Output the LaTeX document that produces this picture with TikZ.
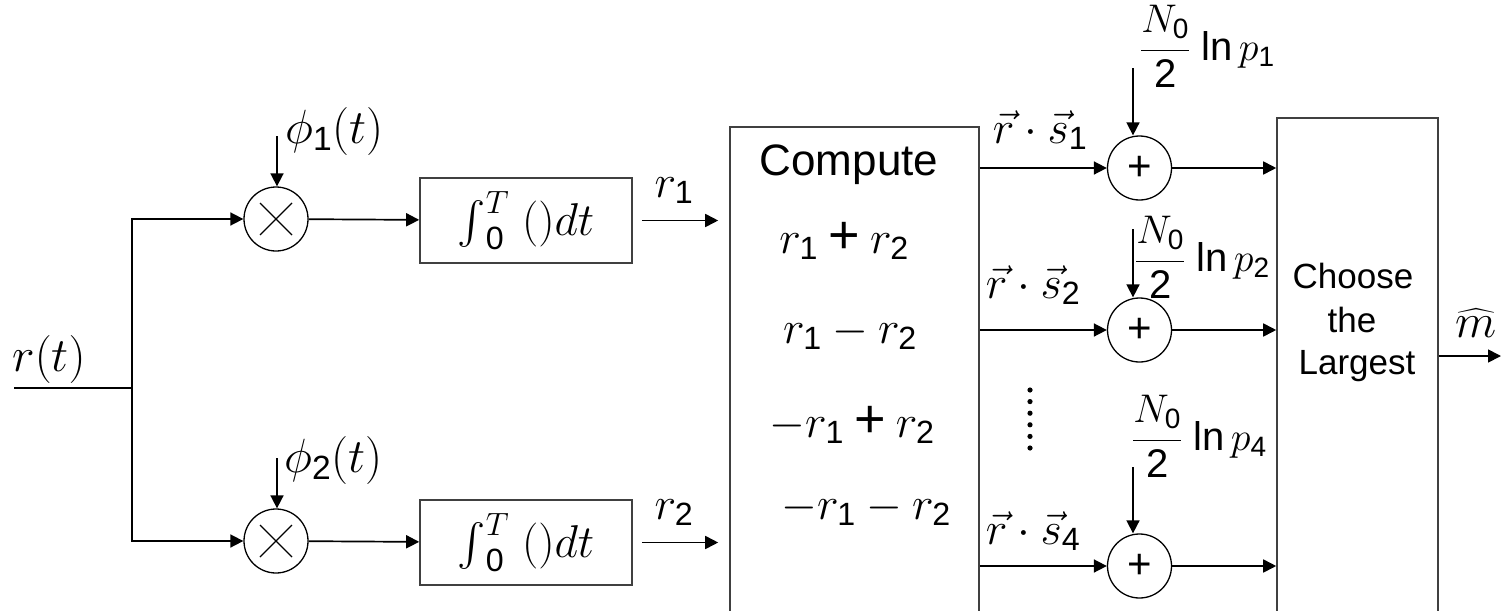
\RequirePackage{fix-cm}
\documentclass[tikz,border=0pt]{standalone}
\usepackage{exscale}
\usepackage{graphicx}
\usepackage{fontspec}
\setsansfont{Liberation Sans}
\usetikzlibrary{arrows.meta,calc}
\newcommand{\bplus}{\mathbin{\textsf{\fontsize{54}{54}\selectfont +}}}
\newcommand{\bigint}{\vcenter{\hbox{\scalebox{1.7}{$\intop$}}}}
\begin{document}
\begin{tikzpicture}[x=1pt,y=-1pt,
  wire/.style={line width=1.7pt},
  arr/.style={-{Triangle[length=13pt,width=13pt]}, line width=1.7pt},
  boxs/.style={draw=black!75, line width=1.6pt, inner sep=0pt},
  mult/.style={circle, draw, line width=1.3pt, minimum size=64pt, inner sep=0pt},
  adder/.style={circle, draw, line width=1.3pt, minimum size=64pt, inner sep=0pt, font=\fontsize{42}{46}\sffamily},
  lbl/.style={inner sep=0pt, anchor=base},
  big/.style={font=\fontsize{48}{54}\selectfont},
  mid/.style={font=\fontsize{46}{52}\selectfont},
  cmath/.style={font=\fontsize{46}{52}\selectfont},
  sflab/.style={font=\fontsize{35}{40}\sffamily},
  fraclab/.style={inner sep=0pt, anchor=base west, font=\fontsize{40}{46}\selectfont},
]
\useasboundingbox (0,0) rectangle (1503,610);
\clip (0,0) rectangle (1503,610);

% blocks
\node[mult] (m1) at (276,219) {};
\node[mult] (m2) at (276,541) {};
\foreach \m in {m1,m2}{
  \draw[line width=1.3pt] ($(\m)+(-16,-16)$) -- ($(\m)+(16,16)$);
  \draw[line width=1.3pt] ($(\m)+(-16,16)$) -- ($(\m)+(16,-16)$);
}
\node[boxs, minimum width=212pt, minimum height=85pt, mid] (i1) at (526,220.5) {$\bigint_{\mathsf 0}^{T}\;()dt$};
\node[boxs, minimum width=212pt, minimum height=85pt, mid] (i2) at (526,542.5) {$\bigint_{\mathsf 0}^{T}\;()dt$};
\node[boxs, minimum width=249pt, minimum height=490pt] (comp) at (854.5,372) {};
\node[boxs, minimum width=161pt, minimum height=500pt] (choose) at (1357.5,368) {};
\node[adder] (a1) at (1139.5,168) {+};
\node[adder] (a2) at (1139.5,330) {+};
\node[adder] (a3) at (1139.5,566) {+};

% input
\coordinate (rin) at (14,388);
\coordinate (split) at (132,388);
\draw[wire] (rin) -- (split);
\draw[arr] (split) |- (m1);
\draw[arr] (split) |- (m2);
\node[lbl, big] (rt) at (49,371) {$r(t)$};

% phi inputs
\coordinate (ph1) at (277,136);
\coordinate (ph2) at (277,458);
\draw[arr] (ph1) -- (ph1 |- m1.north);
\draw[arr] (ph2) -- (ph2 |- m2.north);
\node[lbl, anchor=base west, big] (phi1) at (285,143) {$\phi_{\mathsf 1}(t)$};
\node[lbl, anchor=base west, big] (phi2) at (284,472) {$\phi_{\mathsf 2}(t)$};

% to integrators
\draw[arr] (m1) -- (i1);
\draw[arr] (m2) -- (i2);

% to compute
\draw[arr] ([xshift=9pt]i1.east) -- ([xshift=-11pt]i1.east -| comp.west);
\draw[arr] ([xshift=9pt]i2.east) -- ([xshift=-11pt]i2.east -| comp.west);
\node[lbl, mid] (r1) at (674,197) {$r_{\mathsf 1}$};
\node[lbl, mid] (r2) at (674,519) {$r_{\mathsf 2}$};

% compute contents
\node[lbl, font=\fontsize{44}{50}\sffamily] (ct) at (849,175) {Compute};
\node[lbl, cmath] (e1) at (844,253) {$r_{\mathsf 1}\bplus r_{\mathsf 2}$};
\node[lbl, cmath] (e2) at (850,343) {$r_{\mathsf 1}-r_{\mathsf 2}$};
\node[lbl, cmath] (e3) at (852,437) {$-r_{\mathsf 1}\bplus r_{\mathsf 2}$};
\node[lbl, cmath] (e4) at (866,519) {$-r_{\mathsf 1}-r_{\mathsf 2}$};

% compute outputs
\draw[arr] (a1 -| comp.east) -- (a1);
\draw[arr] (a2 -| comp.east) -- (a2);
\draw[arr] (a3 -| comp.east) -- (a3);
\node[lbl, mid] (d1) at (1040,143) {$\vec r\cdot\vec s_{\mathsf 1}$};
\node[lbl, mid] (d2) at (1033,298) {$\vec r\cdot\vec s_{\mathsf 2}$};
\node[lbl, mid] (d4) at (1033,544) {$\vec r\cdot\vec s_{\mathsf 4}$};
\foreach \k in {0,...,5}{\fill (1030,{390+11.6*\k}) circle (2.6pt);}

% bias inputs
\coordinate (q1) at (1133,68);
\coordinate (q2) at (1133,229);
\coordinate (q3) at (1133,467);
\draw[arr] (q1) -- (q1 |- a1.north);
\draw[arr] (q2) -- (q2 |- a2.north);
\draw[arr] (q3) -- (q3 |- a3.north);
\node[fraclab] (n1) at (1140,60) {$\displaystyle\frac{N_{\mathsf 0}}{\mathsf 2}\;\mathsf{ln}\,p_{\mathsf 1}$};
\node[fraclab] (n2) at (1135,271) {$\displaystyle\frac{N_{\mathsf 0}}{\mathsf 2}\;\mathsf{ln}\,p_{\mathsf 2}$};
\node[fraclab] (n3) at (1132,450) {$\displaystyle\frac{N_{\mathsf 0}}{\mathsf 2}\;\mathsf{ln}\,p_{\mathsf 4}$};

% to chooser
\draw[arr] (a1) -- (a1 -| choose.west);
\draw[arr] (a2) -- (a2 -| choose.west);
\draw[arr] (a3) -- (a3 -| choose.west);
\node[lbl, sflab] (ch1) at (1353,288) {Choose};
\node[lbl, sflab] (ch2) at (1352,332) {the};
\node[lbl, sflab] (ch3) at (1357,374) {Largest};

% output
\coordinate (mout) at (1501,356);
\draw[arr] (choose.east |- mout) -- (mout);
\node[lbl, big] (mh) at (1476,337) {$\widehat{m}$};
\end{tikzpicture}
\end{document}
